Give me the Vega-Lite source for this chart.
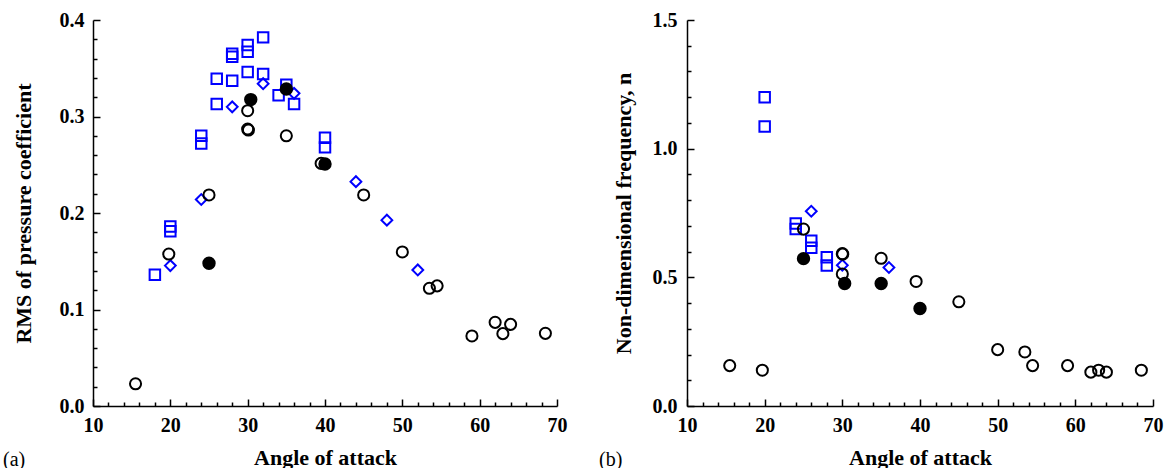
{
  "$schema": "https://vega.github.io/schema/vega-lite/v6.json",
  "padding": {"left": 3, "top": 10, "right": 5, "bottom": 0},
  "datasets": {
    "a": [
      {"s": "square", "aoa": 18.0, "v": 0.136},
      {"s": "square", "aoa": 20.0, "v": 0.186},
      {"s": "square", "aoa": 20.0, "v": 0.181},
      {"s": "square", "aoa": 24.0, "v": 0.280},
      {"s": "square", "aoa": 24.0, "v": 0.272},
      {"s": "square", "aoa": 26.0, "v": 0.339},
      {"s": "square", "aoa": 26.0, "v": 0.313},
      {"s": "square", "aoa": 28.0, "v": 0.365},
      {"s": "square", "aoa": 28.0, "v": 0.362},
      {"s": "square", "aoa": 28.0, "v": 0.337},
      {"s": "square", "aoa": 30.0, "v": 0.374},
      {"s": "square", "aoa": 30.0, "v": 0.367},
      {"s": "square", "aoa": 30.0, "v": 0.346},
      {"s": "square", "aoa": 32.0, "v": 0.382},
      {"s": "square", "aoa": 32.0, "v": 0.344},
      {"s": "square", "aoa": 34.0, "v": 0.322},
      {"s": "square", "aoa": 35.0, "v": 0.333},
      {"s": "square", "aoa": 36.0, "v": 0.313},
      {"s": "square", "aoa": 40.0, "v": 0.278},
      {"s": "square", "aoa": 40.0, "v": 0.268},
      {"s": "diamond", "aoa": 20.0, "v": 0.1455},
      {"s": "diamond", "aoa": 24.0, "v": 0.214},
      {"s": "diamond", "aoa": 28.0, "v": 0.310},
      {"s": "diamond", "aoa": 32.0, "v": 0.334},
      {"s": "diamond", "aoa": 36.0, "v": 0.324},
      {"s": "diamond", "aoa": 44.0, "v": 0.2325},
      {"s": "diamond", "aoa": 48.0, "v": 0.1926},
      {"s": "diamond", "aoa": 52.0, "v": 0.141},
      {"s": "open", "aoa": 15.5, "v": 0.023},
      {"s": "open", "aoa": 19.8, "v": 0.1575},
      {"s": "open", "aoa": 25.0, "v": 0.2187},
      {"s": "open", "aoa": 30.0, "v": 0.306},
      {"s": "open", "aoa": 30.0, "v": 0.287},
      {"s": "open", "aoa": 30.1, "v": 0.286},
      {"s": "open", "aoa": 35.0, "v": 0.280},
      {"s": "open", "aoa": 39.5, "v": 0.2514},
      {"s": "open", "aoa": 45.0, "v": 0.2187},
      {"s": "open", "aoa": 50.0, "v": 0.1596},
      {"s": "open", "aoa": 53.5, "v": 0.122},
      {"s": "open", "aoa": 54.5, "v": 0.1245},
      {"s": "open", "aoa": 59.0, "v": 0.0726},
      {"s": "open", "aoa": 62.0, "v": 0.0867},
      {"s": "open", "aoa": 63.0, "v": 0.075},
      {"s": "open", "aoa": 64.0, "v": 0.0846},
      {"s": "open", "aoa": 68.5, "v": 0.0753},
      {"s": "filled", "aoa": 25.0, "v": 0.148},
      {"s": "filled", "aoa": 30.4, "v": 0.3175},
      {"s": "filled", "aoa": 35.0, "v": 0.3285},
      {"s": "filled", "aoa": 40.0, "v": 0.2507}
    ],
    "b": [
      {"s": "square", "aoa": 20.0, "v": 1.200},
      {"s": "square", "aoa": 20.0, "v": 1.086},
      {"s": "square", "aoa": 24.0, "v": 0.709},
      {"s": "square", "aoa": 24.0, "v": 0.6875},
      {"s": "square", "aoa": 26.0, "v": 0.642},
      {"s": "square", "aoa": 26.0, "v": 0.615},
      {"s": "square", "aoa": 28.0, "v": 0.578},
      {"s": "square", "aoa": 28.0, "v": 0.546},
      {"s": "diamond", "aoa": 26.0, "v": 0.757},
      {"s": "diamond", "aoa": 30.0, "v": 0.547},
      {"s": "diamond", "aoa": 36.0, "v": 0.538},
      {"s": "open", "aoa": 15.5, "v": 0.157},
      {"s": "open", "aoa": 19.7, "v": 0.139},
      {"s": "open", "aoa": 25.0, "v": 0.6875},
      {"s": "open", "aoa": 30.0, "v": 0.592},
      {"s": "open", "aoa": 30.05, "v": 0.590},
      {"s": "open", "aoa": 30.0, "v": 0.513},
      {"s": "open", "aoa": 35.0, "v": 0.574},
      {"s": "open", "aoa": 39.5, "v": 0.484},
      {"s": "open", "aoa": 45.0, "v": 0.405},
      {"s": "open", "aoa": 50.0, "v": 0.219},
      {"s": "open", "aoa": 53.5, "v": 0.210},
      {"s": "open", "aoa": 54.5, "v": 0.157},
      {"s": "open", "aoa": 59.0, "v": 0.157},
      {"s": "open", "aoa": 62.0, "v": 0.1316},
      {"s": "open", "aoa": 63.0, "v": 0.139},
      {"s": "open", "aoa": 64.0, "v": 0.1316},
      {"s": "open", "aoa": 68.5, "v": 0.139},
      {"s": "filled", "aoa": 25.0, "v": 0.5727},
      {"s": "filled", "aoa": 30.3, "v": 0.476},
      {"s": "filled", "aoa": 35.0, "v": 0.476},
      {"s": "filled", "aoa": 40.0, "v": 0.379}
    ]
  },
  "config": {
    "view": {"stroke": null},
    "concat": {"spacing": 32},
    "axis": {
      "grid": false,
      "domainColor": "#000000",
      "domainWidth": 1.5,
      "tickColor": "#000000",
      "tickWidth": 1.5,
      "labelFont": "Liberation Serif",
      "labelFontSize": 20,
      "labelFontWeight": "bold",
      "labelColor": "#000000",
      "labelOverlap": false,
      "labelFlush": false,
      "labelBound": false,
      "titleFont": "Liberation Serif",
      "titleFontSize": 22,
      "titleFontWeight": "bold",
      "titleColor": "#000000"
    },
    "title": {"font": "Liberation Serif", "fontSize": 20, "fontWeight": "normal", "color": "#000000"}
  },
  "hconcat": [
    {
      "width": 464,
      "height": 386,
      "data": {"name": "a"},
      "title": {"text": "(a)", "orient": "bottom", "anchor": "start", "dx": -9, "dy": -22},
      "mark": {"type": "point", "filled": true, "strokeWidth": 2, "opacity": 1},
      "encoding": {
        "x": {
          "field": "aoa", "type": "quantitative",
          "scale": {"domain": [10, 70], "nice": false, "zero": false},
          "axis": {
            "title": "Angle of attack",
            "values": [10,12,14,16,18,20,22,24,26,28,30,32,34,36,38,40,42,44,46,48,50,52,54,56,58,60,62,64,66,68,70],
            "format": "d",
            "labelExpr": "datum.value % 10 === 0 ? datum.label : ''",
            "tickSize": {"condition": {"test": "datum.value % 10 === 0", "value": -7}, "value": -4},
            "labelPadding": 16,
            "titlePadding": 9
          }
        },
        "y": {
          "field": "v", "type": "quantitative",
          "scale": {"domain": [0, 0.4], "nice": false},
          "axis": {
            "title": "RMS of pressure coefficient",
            "values": [0,0.02,0.04,0.06,0.08,0.1,0.12,0.14,0.16,0.18,0.2,0.22,0.24,0.26,0.28,0.3,0.32,0.34,0.36,0.38,0.4],
            "format": ".1f",
            "labelExpr": "abs(datum.value*10 - round(datum.value*10)) < 0.001 ? datum.label : ''",
            "tickSize": {"condition": {"test": "abs(datum.value*10 - round(datum.value*10)) < 0.001", "value": -7}, "value": -4},
            "labelPadding": 16,
            "titlePadding": 24
          }
        },
        "shape": {"field": "s", "type": "nominal", "scale": {"domain": ["square", "diamond", "open", "filled"], "range": ["square", "diamond", "circle", "circle"]}, "legend": null},
        "stroke": {"field": "s", "type": "nominal", "scale": {"domain": ["square", "diamond", "open", "filled"], "range": ["#0000ff", "#0000ff", "#000000", "#000000"]}, "legend": null},
        "fill": {"field": "s", "type": "nominal", "scale": {"domain": ["square", "diamond", "open", "filled"], "range": ["transparent", "transparent", "transparent", "#000000"]}, "legend": null},
        "size": {"field": "s", "type": "nominal", "scale": {"domain": ["square", "diamond", "open", "filled"], "range": [110, 130, 160, 170]}, "legend": null}
      }
    },
    {
      "width": 466,
      "height": 386,
      "data": {"name": "b"},
      "title": {"text": "(b)", "orient": "bottom", "anchor": "start", "dx": -13, "dy": -22},
      "mark": {"type": "point", "filled": true, "strokeWidth": 2, "opacity": 1},
      "encoding": {
        "x": {
          "field": "aoa", "type": "quantitative",
          "scale": {"domain": [10, 70], "nice": false, "zero": false},
          "axis": {
            "title": "Angle of attack",
            "values": [10,12,14,16,18,20,22,24,26,28,30,32,34,36,38,40,42,44,46,48,50,52,54,56,58,60,62,64,66,68,70],
            "format": "d",
            "labelExpr": "datum.value % 10 === 0 ? datum.label : ''",
            "tickSize": {"condition": {"test": "datum.value % 10 === 0", "value": -7}, "value": -4},
            "labelPadding": 16,
            "titlePadding": 9
          }
        },
        "y": {
          "field": "v", "type": "quantitative",
          "scale": {"domain": [0, 1.5], "nice": false},
          "axis": {
            "title": "Non-dimensional frequency, n",
            "values": [0,0.1,0.2,0.3,0.4,0.5,0.6,0.7,0.8,0.9,1.0,1.1,1.2,1.3,1.4,1.5],
            "format": ".1f",
            "labelExpr": "abs(datum.value*2 - round(datum.value*2)) < 0.001 ? datum.label : ''",
            "tickSize": {"condition": {"test": "abs(datum.value*2 - round(datum.value*2)) < 0.001", "value": -7}, "value": -4},
            "labelPadding": 17,
            "titlePadding": 17
          }
        },
        "shape": {"field": "s", "type": "nominal", "scale": {"domain": ["square", "diamond", "open", "filled"], "range": ["square", "diamond", "circle", "circle"]}, "legend": null},
        "stroke": {"field": "s", "type": "nominal", "scale": {"domain": ["square", "diamond", "open", "filled"], "range": ["#0000ff", "#0000ff", "#000000", "#000000"]}, "legend": null},
        "fill": {"field": "s", "type": "nominal", "scale": {"domain": ["square", "diamond", "open", "filled"], "range": ["transparent", "transparent", "transparent", "#000000"]}, "legend": null},
        "size": {"field": "s", "type": "nominal", "scale": {"domain": ["square", "diamond", "open", "filled"], "range": [110, 130, 160, 170]}, "legend": null}
      }
    }
  ]
}
